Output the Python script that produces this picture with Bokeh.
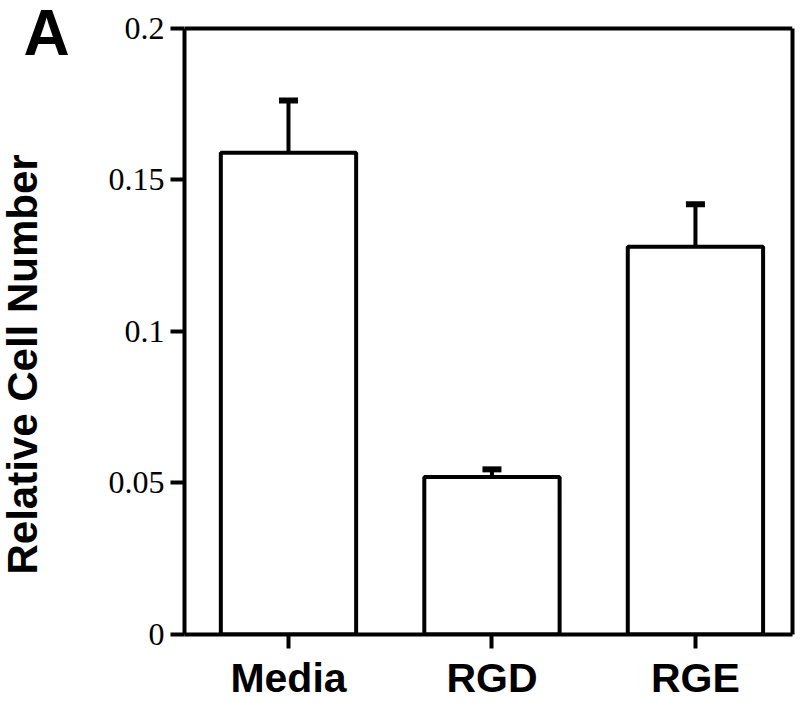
import math
from bokeh.plotting import figure
from bokeh.layouts import row
from bokeh.models import (Range1d, FixedTicker, Whisker, ColumnDataSource, TeeHead,
                          LinearAxis, Span)
from bokeh.core.properties import value
from bokeh.embed import file_html
from bokeh.resources import INLINE

categories = ["Media", "RGD", "RGE"]
values = [0.159, 0.052, 0.128]
errors = [0.0172, 0.0025, 0.014]
y_ticks = [0, 0.05, 0.1, 0.15, 0.2]
y_tick_labels = ["0", "0.05", "0.1", "0.15", "0.2"]
y_title = "Relative Cell Number"
panel_letter = "A"

W, H = 800, 703
LEFT_W = 100
BOTTOM = 68
FRAME_H = H - BOTTOM
Y_MAX = 0.2
Y_TOP_PAD_PX = 28

xs = [i + 1 for i in range(len(categories))]
upper = [v + e for v, e in zip(values, errors)]
src = ColumnDataSource(dict(x=xs, top=values, upper=upper, lower=values))

# left strip carrying the panel letter and the y title (pixel coordinates, y up)
lp = figure(frame_width=LEFT_W, frame_height=FRAME_H, output_backend="svg",
            toolbar_location=None, x_range=Range1d(0, LEFT_W), y_range=Range1d(0, FRAME_H),
            min_border=0, x_axis_type=None, y_axis_type=None)
lp.title.visible = False
lp.outline_line_color = None
lp.grid.visible = False
lp.text(x=[23], y=[FRAME_H - 32], text=[panel_letter], text_align="left",
        text_baseline="alphabetic", text_font=value("Liberation Sans"),
        text_font_style="bold", text_font_size="64px", text_color="black")
lp.text(x=[22], y=[FRAME_H - 574], text=[y_title], angle=math.pi / 2,
        text_align="left", text_baseline="alphabetic",
        text_font=value("Liberation Sans"), text_font_style="bold",
        text_font_size="42px", text_color="black")

y_end = Y_MAX * (1 + Y_TOP_PAD_PX / (FRAME_H - Y_TOP_PAD_PX))
p = figure(width=W - LEFT_W, height=H, output_backend="svg", toolbar_location=None,
           x_range=Range1d(0.489, 3.477), y_range=Range1d(0, y_end),
           min_border_left=184 - LEFT_W, min_border_right=8,
           min_border_top=0, min_border_bottom=BOTTOM)
p.title.visible = False
p.background_fill_color = "white"
p.border_fill_color = "white"
p.grid.visible = False
p.outline_line_color = None

p.vbar(x="x", top="top", bottom=0, width=0.665, source=src,
       fill_color="white", line_color="black", line_width=4)

w = Whisker(base="x", upper="upper", lower="lower", source=src,
            upper_head=TeeHead(size=19, line_width=6, line_color="black"),
            lower_head=None, line_width=4, line_color="black")
p.add_layout(w)

# top edge of the box at the top of the value scale
p.add_layout(Span(location=Y_MAX, dimension="width", line_color="black", line_width=4))

xa = p.xaxis[0]
xa.ticker = FixedTicker(ticks=xs)
xa.major_label_overrides = {x: c for x, c in zip(xs, categories)}
xa.major_tick_out = 14
xa.major_tick_in = 0
xa.minor_tick_out = 0
xa.minor_tick_in = 0
xa.axis_line_width = 4
xa.major_tick_line_width = 4
xa.major_label_text_font = "Liberation Sans"
xa.major_label_text_font_style = "bold"
xa.major_label_text_font_size = "41px"
xa.major_label_text_color = "black"
xa.major_label_standoff = 6

ya = p.yaxis[0]
ya.bounds = (0, Y_MAX)
ya.ticker = FixedTicker(ticks=y_ticks)
ya.major_label_overrides = {t: l for t, l in zip(y_ticks, y_tick_labels)}
ya.major_tick_out = 14
ya.major_tick_in = 0
ya.minor_tick_out = 0
ya.minor_tick_in = 0
ya.axis_line_width = 4
ya.major_tick_line_width = 4
ya.major_label_text_font = "Liberation Serif"
ya.major_label_text_font_size = "32px"
ya.major_label_text_color = "black"
ya.major_label_standoff = 6

# right edge of the box
ra = LinearAxis(bounds=(0, Y_MAX), ticker=FixedTicker(ticks=[]), axis_line_width=4,
                axis_line_color="black", major_tick_out=0, major_tick_in=0,
                minor_tick_out=0, minor_tick_in=0)
p.add_layout(ra, "right")

layout = row(lp, p)
open("out.html", "w").write(file_html(layout, INLINE))
